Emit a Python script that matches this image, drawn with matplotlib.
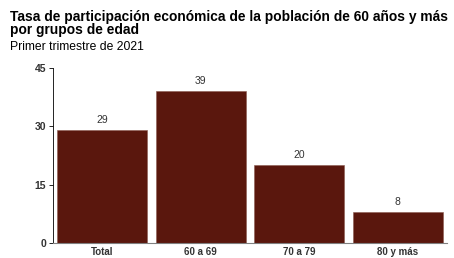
import matplotlib
matplotlib.use("Agg")
import matplotlib.pyplot as plt

categories = ["Total", "60 a 69", "70 a 79", "80 y más"]
values = [29, 39, 20, 8]
yticks = [0, 15, 30, 45]

plt.rcParams['font.family'] = ['Liberation Sans', 'DejaVu Sans']

fig = plt.figure(figsize=(4.54, 2.58), dpi=100)
ax = fig.add_axes([0.1167, 0.058, 0.868, 0.678])
x = range(len(categories))
bars = ax.bar(x, values, width=0.91, color="#5a170d", edgecolor="#8a5a50", linewidth=0.4)
for xi, v in zip(x, values):
    ax.text(xi, v + 1.3, f"{v}", ha="center", va="bottom", fontsize=7.5, color="#333333")
ax.set_xlim(-0.5, 3.5)
ax.set_ylim(0, 45)
ax.set_yticks(yticks)
ax.set_xticks(list(x))
ax.set_xticklabels(categories, fontsize=7, color="#333333", fontweight="bold")
ax.tick_params(axis="y", labelsize=7.5, labelcolor="#333333", length=3, width=0.6, pad=2)
ax.tick_params(axis="x", length=0, pad=3)
for s in ["top", "right"]:
    ax.spines[s].set_visible(False)
ax.spines["left"].set_linewidth(0.6)
ax.spines["bottom"].set_linewidth(0.8)
ax.spines["bottom"].set_color("#808080")
for lbl in ax.get_yticklabels():
    lbl.set_fontweight("bold")

fig.text(0.022, 0.96, "Tasa de participación económica de la población de 60 años y más\npor grupos de edad",
         fontsize=9.9, fontweight="bold", ha="left", va="top", linespacing=0.92)
fig.text(0.022, 0.84, "Primer trimestre de 2021", fontsize=8.7, ha="left", va="top")

fig.savefig("out.png", dpi=100)
